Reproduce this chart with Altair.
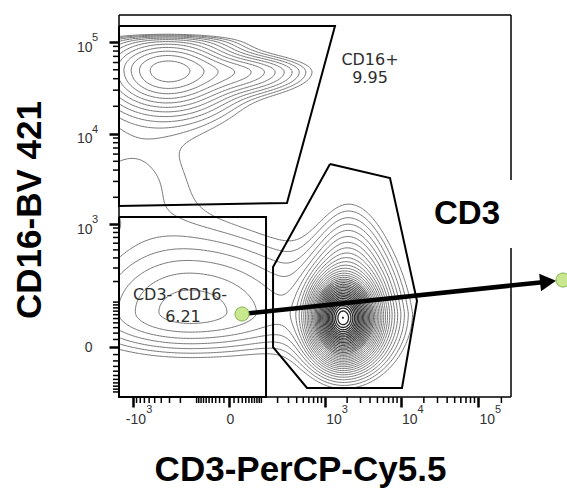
import numpy as np
import pandas as pd
import altair as alt

# ---------------- axis scales (FlowJo biexponential approximated by symlog) ----------------
X_CONST = 62
Y_CONST = 48
X_DOMAIN = [-1557, 266000]
Y_DOMAIN = [-120, 197600]

x_major = [-1000, 0, 1000, 10000, 100000]
x_major_labels = ["-10", "0", "10", "10", "10"]
x_exp_vals = [1000, 10000, 100000]
x_exp_text = ["3", "4", "5"]
x_negexp_vals = [-1000]
x_negexp_text = ["3"]
y_major = [0, 1000, 10000, 100000]
y_major_labels = ["0", "10", "10", "10"]
y_exp_vals = [1000, 10000, 100000]
y_exp_text = ["3", "4", "5"]

x_minor = [-900, -800, -700, -600, -500, -400, -300, -200, -100,
           -90, -80, -70, -60, -50, -40, -30, -20, -10,
           10, 20, 30, 40, 50, 60, 70, 80, 90,
           100, 200, 300, 400, 500, 600, 700, 800, 900,
           2000, 3000, 4000, 5000, 6000, 7000, 8000, 9000,
           20000, 30000, 40000, 50000, 60000, 70000, 80000, 90000, 200000]
y_minor = [-100, -90, -80, -70, -60, -50, -40, -30, -20, -10,
           10, 20, 30, 40, 50, 60, 70, 80, 90,
           100, 200, 300, 400, 500, 600, 700, 800, 900,
           2000, 3000, 4000, 5000, 6000, 7000, 8000, 9000,
           20000, 30000, 40000, 50000, 60000, 70000, 80000, 90000]

# ---------------- cell populations (centres in data units, spreads in display decades) -------
pop_name = ["CD3+ core", "CD3+ halo", "CD16+ core", "CD16+ tail", "CD3- CD16-", "CD16 dim"]
pop_cx = [1762, 1873, -328, 12, -135, -1294]
pop_cy = [51.3, 64.6, 49733, 47280, 67.4, 3110]
pop_sl = [0.090, 0.193, 0.374, 0.515, 0.773, 0.773]
pop_sr = [0.097, 0.214, 0.374, 0.515, 0.902, 0.773]
pop_su = [0.103, 0.300, 0.168, 0.098, 0.457, 0.435]
pop_sd = [0.098, 0.200, 0.207, 0.131, 0.240, 0.435]
pop_peak = [12680, 39.4, 20.4, 5.2, 5.5, 1.2]
pop_shape = [6, 3, 3, 50, 4, 50]
pop_taper = [0, 0.3, 0, 0, 0, 0]
pop_shear = [0, 0.05, 0, 0, 0, 0]
CEILING_Y = 116700
CEILING_SOFT = 0.027
LEVEL_RATIO = 1.3
N_LEVELS = 37

# ---------------- gates ----------------
gate_cd16_x = [-1557, 1376, 284, -1557, -1557]
gate_cd16_y = [150000, 150000, 1726, 1597, 150000]
gate_dn_x = [-1557, 124, 124, -1557, -1557]
gate_dn_y = [1201, 1201, -120, -120, 1201]
gate_cd3_x = [1178, 7291, 16312, 10428, 565, 167, 167, 1178]
gate_cd3_y = [4668, 3273, 104, -86, -86, 0, 309, 4668]

gate_text = ["CD16+", "9.95", "CD3- CD16-", "6.21"]
gate_text_x = [4000, 4000, -203, -181]
gate_text_y = [63917, 40690, 128.8, 53.9]

big_text = ["CD3"]
big_text_x = [72100]
big_text_y = [1298]

arrow_x = [29.2, 729400]
arrow_y = [61.8, 197.5]
arrow_tip_x = [1011200]
arrow_tip_y = [204.7]
dot_x = [29.2, 1244500]
dot_y = [61.8, 209.4]


def to_disp(v, c):
    v = np.asarray(v, dtype=float)
    return np.sign(v) * np.log10(1 + np.abs(v) / c)


def from_disp(t, c):
    t = np.asarray(t, dtype=float)
    return np.sign(t) * c * (10 ** np.abs(t) - 1)


# ---------------- density on display grid ----------------
u0, u1 = to_disp(X_DOMAIN, X_CONST)
w0, w1 = to_disp(Y_DOMAIN, Y_CONST)
NX, NY = 262, 256
U = np.linspace(u0, u1, NX)
W = np.linspace(w0, w1, NY)
UU, WW = np.meshgrid(U, W)
F = np.zeros_like(UU)
for k in range(len(pop_name)):
    cu = float(to_disp(pop_cx[k], X_CONST))
    cw = float(to_disp(pop_cy[k], Y_CONST))
    du = UU - cu
    dw = WW - cw
    up = np.maximum(dw, 0)
    du = du - pop_shear[k] * up
    su = np.where(du < 0, pop_sl[k], pop_sr[k]) * np.exp(-pop_taper[k] * up)
    sw = np.where(dw > 0, pop_su[k], pop_sd[k])
    q = (du / su) ** 2 + (dw / sw) ** 2
    m = pop_shape[k]
    F += pop_peak[k] * (1 + q / (2 * m)) ** (-m)
wc = float(to_disp(CEILING_Y, Y_CONST))
F *= 1 / (1 + np.exp((WW - wc) / CEILING_SOFT))

TABLE = {1: (3, 0), 2: (0, 1), 3: (3, 1), 4: (1, 2), 6: (0, 2), 7: (3, 2), 8: (2, 3),
         9: (0, 2), 11: (1, 2), 12: (3, 1), 13: (0, 1), 14: (3, 0)}


def march(level):
    B = (F > level).astype(np.int8)
    case = B[:-1, :-1] + 2 * B[:-1, 1:] + 4 * B[1:, 1:] + 8 * B[1:, :-1]
    js, iis = np.nonzero((case > 0) & (case < 15))
    adj = {}
    pts = {}

    def pt(key):
        if key in pts:
            return
        kind, j, i = key
        if kind == 0:
            a, b = F[j, i], F[j, i + 1]
            t = (level - a) / (b - a)
            pts[key] = (U[i] + t * (U[i + 1] - U[i]), W[j])
        else:
            a, b = F[j, i], F[j + 1, i]
            t = (level - a) / (b - a)
            pts[key] = (U[i], W[j] + t * (W[j + 1] - W[j]))

    def link(a, b):
        pt(a)
        pt(b)
        adj.setdefault(a, []).append(b)
        adj.setdefault(b, []).append(a)

    for j, i in zip(js, iis):
        c = int(case[j, i])
        E = [(0, j, i), (1, j, i + 1), (0, j + 1, i), (1, j, i)]
        if c in (5, 10):
            center = 0.25 * (F[j, i] + F[j, i + 1] + F[j + 1, i] + F[j + 1, i + 1]) > level
            if (c == 5) == bool(center):
                pairs = [(0, 1), (2, 3)]
            else:
                pairs = [(3, 0), (1, 2)]
        else:
            pairs = [TABLE[c]]
        for a, b in pairs:
            link(E[a], E[b])

    paths = []

    def walk(start):
        path = [start]
        cur = start
        while adj[cur]:
            nxt = adj[cur].pop()
            adj[nxt].remove(cur)
            path.append(nxt)
            cur = nxt
        return path

    for key in list(adj.keys()):
        if len(adj[key]) == 1:
            paths.append(walk(key))
    for key in list(adj.keys()):
        if adj[key]:
            paths.append(walk(key))
    return [[pts[k] for k in p] for p in paths]


rows = []
cid = 0
for lv in range(N_LEVELS):
    level = LEVEL_RATIO ** lv
    for path in march(level):
        if len(path) < 3:
            continue
        arr = np.array(path)
        xs = from_disp(arr[:, 0], X_CONST)
        ys = from_disp(arr[:, 1], Y_CONST)
        for o, (xv, yv) in enumerate(zip(xs, ys)):
            rows.append((float(np.round(xv, 3)), float(np.round(yv, 3)), cid, o, lv))
        cid += 1
cdf = pd.DataFrame(rows, columns=["x", "y", "cid", "o", "lv"])

# ---------------- scales & axes ----------------
xscale = alt.Scale(type="symlog", constant=X_CONST, domain=X_DOMAIN, nice=False, zero=False)
yscale = alt.Scale(type="symlog", constant=Y_CONST, domain=Y_DOMAIN, nice=False, zero=False)


def label_expr(vals, labels):
    expr = "''"
    for v, l in reversed(list(zip(vals, labels))):
        expr = f"datum.value == {v} ? '{l}' : ({expr})"
    return expr


LABEL_FONT = "Liberation Sans"
x_axis = alt.Axis(
    values=x_major, labelExpr=label_expr(x_major, x_major_labels),
    title="CD3-PerCP-Cy5.5", domain=False, grid=False,
    tickSize=10, tickWidth=2.5, tickColor="black",
    labelFont=LABEL_FONT, labelFontSize=14, labelColor="#333333",
    labelPadding=12, labelBaseline="middle", labelOverlap=False, labelFlush=False, labelBound=False,
    labelAlign={"condition": {"test": "datum.value == 0", "value": "center"}, "value": "left"},
    labelOffset={"condition": {"test": "datum.value < 0", "value": -8}, "value": 1},
    titleFont="Liberation Sans", titleFontSize=35, titleFontWeight="bold", titleColor="black",
    titleX=181, titleY=83, titleBaseline="alphabetic", titleAlign="center",
)
y_axis = alt.Axis(
    values=y_major, labelExpr=label_expr(y_major, y_major_labels),
    title="CD16-BV 421", domain=False, grid=False,
    tickSize=10, tickWidth=2.5, tickColor="black",
    labelFont=LABEL_FONT, labelFontSize=14, labelColor="#333333",
    labelPadding=17, labelAlign="right", labelBaseline="middle",
    labelOffset={"condition": {"test": "datum.value == 0", "value": 0}, "value": 5},
    labelOverlap=False, labelFlush=False, labelBound=False,
    titleFont="Liberation Sans", titleFontSize=35, titleFontWeight="bold", titleColor="black",
    titleAngle=270, titleX=-79, titleY=194.5, titleBaseline="alphabetic", titleAlign="center",
)

X = lambda f: alt.X(f, scale=xscale)
Y = lambda f: alt.Y(f, scale=yscale)

contours = alt.Chart(cdf).mark_line(clip=True).encode(
    x=alt.X("x:Q", scale=xscale, axis=x_axis),
    y=alt.Y("y:Q", scale=yscale, axis=y_axis),
    color=alt.Color("lv:Q", scale=alt.Scale(domain=[14, 34], range=["#6e6e6e", "#262626"], clamp=True),
                    legend=None),
    strokeWidth=alt.StrokeWidth("lv:Q", scale=alt.Scale(domain=[14, 34], range=[0.95, 1.3], clamp=True),
                                legend=None),
    detail="cid:N", order="o:Q",
)

gdf = pd.concat([
    pd.DataFrame({"x": gate_cd16_x, "y": gate_cd16_y, "gate": "CD16+", "o": range(len(gate_cd16_x))}),
    pd.DataFrame({"x": gate_dn_x, "y": gate_dn_y, "gate": "DN", "o": range(len(gate_dn_x))}),
    pd.DataFrame({"x": gate_cd3_x, "y": gate_cd3_y, "gate": "CD3", "o": range(len(gate_cd3_x))}),
])
gates = alt.Chart(gdf).mark_line(stroke="black", strokeWidth=2).encode(
    x=X("x:Q"), y=Y("y:Q"), detail="gate:N", order="o:Q")

tdf = pd.DataFrame({"x": gate_text_x, "y": gate_text_y, "t": gate_text})
gate_labels = alt.Chart(tdf).mark_text(font="DejaVu Sans", fontSize=16, color="#2e2e2e",
                                       align="center", baseline="middle").encode(
    x=X("x:Q"), y=Y("y:Q"), text="t:N")

bdf = pd.DataFrame({"x": big_text_x, "y": big_text_y, "t": big_text})
big_label = alt.Chart(bdf).mark_text(font="Liberation Sans", fontSize=33, fontWeight="bold",
                                     color="black", align="center", baseline="middle").encode(
    x=X("x:Q"), y=Y("y:Q"), text="t:N")

# exponents of the decade labels
xexp = alt.Chart(pd.DataFrame({"x": x_exp_vals, "t": x_exp_text})).mark_text(
    font=LABEL_FONT, fontSize=11, color="#333333", align="left", baseline="middle", dx=17).encode(
    x=X("x:Q"), y=alt.value(395), text="t:N")
xnegexp = alt.Chart(pd.DataFrame({"x": x_negexp_vals, "t": x_negexp_text})).mark_text(
    font=LABEL_FONT, fontSize=11, color="#333333", align="left", baseline="middle", dx=13).encode(
    x=X("x:Q"), y=alt.value(395), text="t:N")
yexp = alt.Chart(pd.DataFrame({"y": y_exp_vals, "t": y_exp_text})).mark_text(
    font=LABEL_FONT, fontSize=11, color="#333333", align="left", baseline="middle", dy=-4).encode(
    y=Y("y:Q"), x=alt.value(-27), text="t:N")

one = pd.DataFrame({"k": [0]})
frame = [
    alt.Chart(one).mark_rule(color="black", strokeWidth=1.5).encode(x=alt.value(0), x2=alt.value(392), y=alt.value(0)),
    alt.Chart(one).mark_rule(color="black", strokeWidth=1.5).encode(x=alt.value(0), x2=alt.value(392), y=alt.value(382)),
    alt.Chart(one).mark_rule(color="black", strokeWidth=1.5).encode(x=alt.value(0), y=alt.value(0), y2=alt.value(382)),
    alt.Chart(one).mark_rule(color="black", strokeWidth=1.5).encode(x=alt.value(392), y=alt.value(0), y2=alt.value(165)),
    alt.Chart(one).mark_rule(color="black", strokeWidth=1.5).encode(x=alt.value(392), y=alt.value(233), y2=alt.value(382)),
]

xminor = alt.Chart(pd.DataFrame({"x": x_minor})).mark_rule(color="black", strokeWidth=1.5).encode(
    x=X("x:Q"), y=alt.value(382), y2=alt.value(388))
yminor = alt.Chart(pd.DataFrame({"y": y_minor})).mark_rule(color="black", strokeWidth=1.5).encode(
    y=Y("y:Q"), x=alt.value(0), x2=alt.value(-6))

adf = pd.DataFrame({"x": arrow_x, "y": arrow_y, "o": [0, 1]})
arrow = alt.Chart(adf).mark_line(stroke="black", strokeWidth=4.5).encode(
    x=X("x:Q"), y=Y("y:Q"), order="o:Q")
head = alt.Chart(pd.DataFrame({"x": arrow_tip_x, "y": arrow_tip_y})).mark_point(
    shape="M0,0L-1,-0.55L-1,0.55Z", filled=True, fill="black", fillOpacity=1, strokeWidth=0,
    size=1024, angle=354).encode(x=X("x:Q"), y=Y("y:Q"))
dots = alt.Chart(pd.DataFrame({"x": dot_x, "y": dot_y})).mark_point(
    shape="circle", filled=True, fill="#c9e78e", fillOpacity=1, stroke="#86b552", strokeWidth=1,
    size=200).encode(x=X("x:Q"), y=Y("y:Q"))

chart = alt.layer(
    contours, gates, gate_labels, *frame, xminor, yminor, xexp, xnegexp, yexp,
    arrow, head, dots, big_label
).properties(
    width=392, height=382,
    autosize=alt.AutoSizeParams(type="none"),
    padding={"left": 119, "top": 15, "right": 56, "bottom": 98},
    background="white",
).configure_view(stroke=None)

chart.save("out.html", embed_options={"renderer": "svg", "actions": False})
